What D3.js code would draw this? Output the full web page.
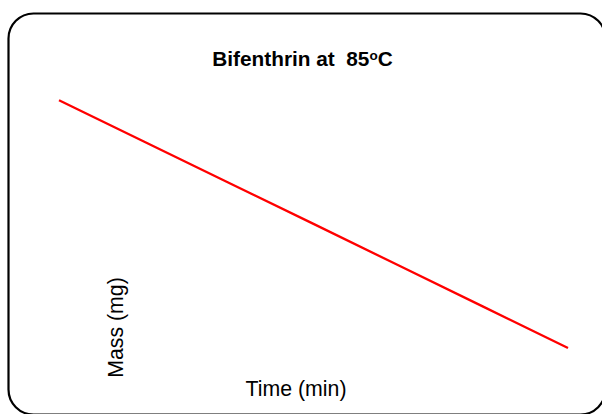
<!DOCTYPE html>
<html>
<head>
<meta charset="utf-8">
<script src="https://cdn.jsdelivr.net/npm/d3@7"></script>
<style>
  html, body { margin: 0; padding: 0; background: #fff; }
  svg { display: block; }
  text { font-family: "Liberation Sans", Arial, sans-serif; }
</style>
</head>
<body>
<svg id="chart" width="602" height="414"></svg>
<script>
// Data (no axes shown in the original)
const timeMin = [0, 10, 20, 30, 40, 50, 60];
const massMg  = [100, 83.4, 66.7, 50.1, 33.4, 16.7, 0];
const titleMain = "Bifenthrin at  85";
const titleSup = "o";
const titleEnd = "C";
const xLabel = "Time (min)";
const yLabel = "Mass (mg)";

const svg = d3.select("#chart");

// Rounded frame
svg.append("rect")
  .attr("x", 8.5).attr("y", 13.5)
  .attr("width", 597).attr("height", 401)
  .attr("rx", 25).attr("ry", 25)
  .attr("fill", "#fff")
  .attr("stroke", "#000")
  .attr("stroke-width", 2.2);

const x = d3.scaleLinear().domain([0, 60]).range([59, 568]);
const y = d3.scaleLinear().domain([0, 100]).range([348, 100.3]);

const pts = timeMin.map((t, i) => [t, massMg[i]]);
svg.append("path")
  .datum(pts)
  .attr("fill", "none")
  .attr("stroke", "#ff0000")
  .attr("stroke-width", 2.3)
  .attr("d", d3.line().x(d => x(d[0])).y(d => y(d[1])));

// Title
const title = svg.append("text")
  .attr("x", 302.5).attr("y", 66)
  .attr("text-anchor", "middle")
  .attr("font-size", 20.8)
  .attr("font-weight", "bold")
  .style("white-space", "pre");
title.append("tspan").text(titleMain);
title.append("tspan").attr("font-size", 13.5).attr("dy", -6).text(titleSup);
title.append("tspan").attr("dy", 6).text(titleEnd);

// Axis labels
svg.append("text")
  .attr("x", 296).attr("y", 395.5)
  .attr("text-anchor", "middle")
  .attr("font-size", 21.3)
  .text(xLabel);

svg.append("text")
  .attr("transform", "translate(122.5,327.5) rotate(-90)")
  .attr("text-anchor", "middle")
  .attr("font-size", 21.3)
  .text(yLabel);
</script>
</body>
</html>
